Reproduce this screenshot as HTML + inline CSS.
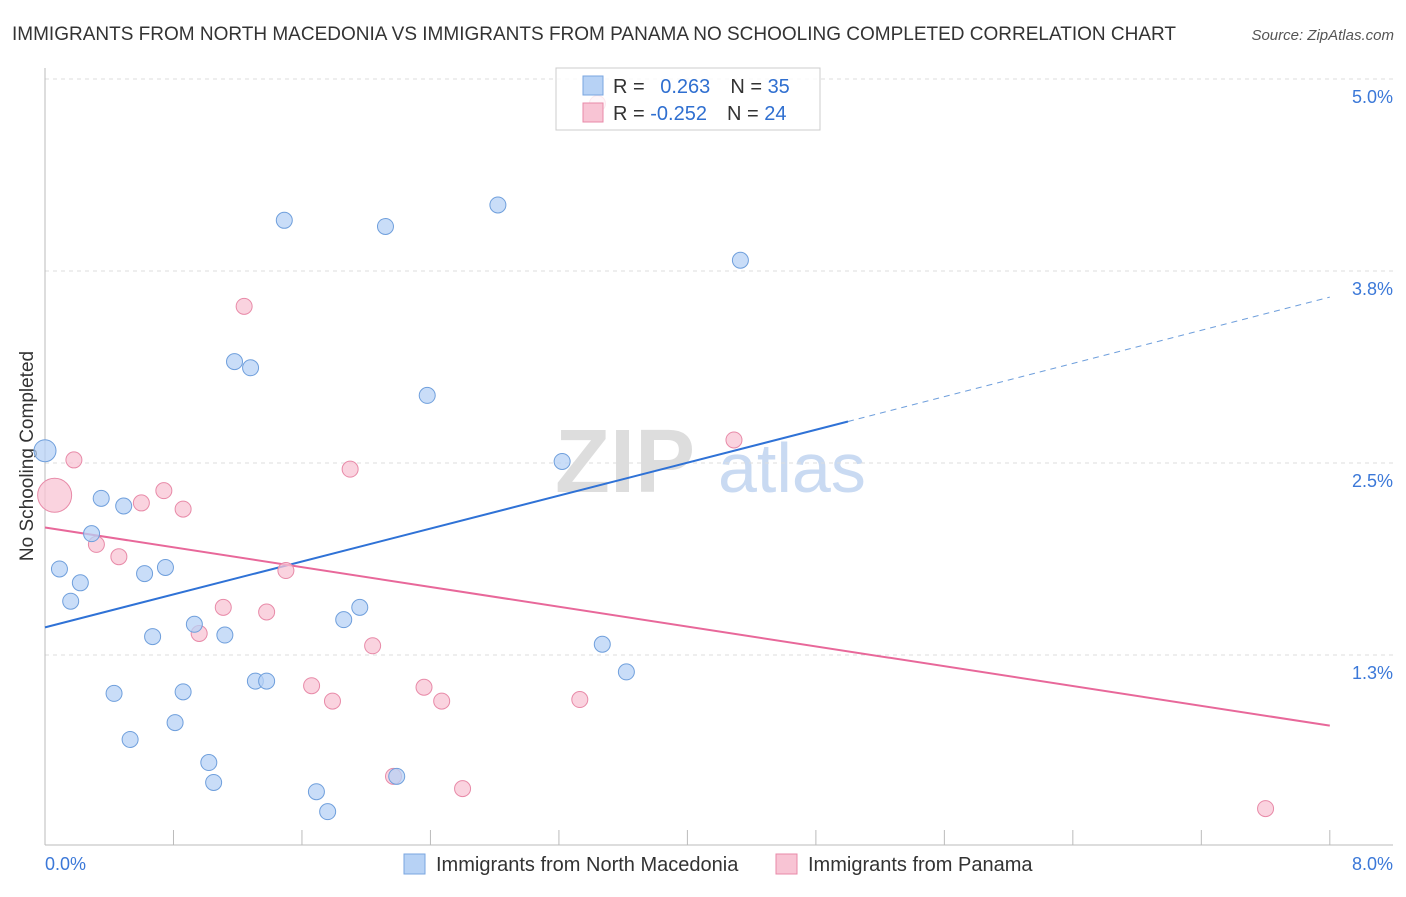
<!DOCTYPE html>
<html><head><meta charset="utf-8"><style>
body{margin:0;background:#fff;font-family:"Liberation Sans",sans-serif;}
svg text{font-family:"Liberation Sans",sans-serif;}
</style></head><body>
<svg id="chart" width="1406" height="892" xmlns="http://www.w3.org/2000/svg">
<text x="12" y="40" font-size="19" fill="#333">IMMIGRANTS FROM NORTH MACEDONIA VS IMMIGRANTS FROM PANAMA NO SCHOOLING COMPLETED CORRELATION CHART</text>
<text x="1394" y="40" font-size="15" fill="#555" font-style="italic" text-anchor="end">Source: ZipAtlas.com</text>
<text x="555" y="492" font-size="90" fill="#ddd" font-family="Liberation Serif" font-weight="bold">ZIP</text>
<text x="718" y="492" font-size="70" fill="#c9daf2">atlas</text>
<text transform="translate(33,456) rotate(-90)" font-size="19" fill="#333" text-anchor="middle">No Schooling Completed</text>
<g id="grid"></g><g id="axes"></g><g id="lines"></g><g id="pts"></g>
<g>
<rect x="556" y="68" width="264" height="62" fill="#fff" fill-opacity="0.8" stroke="#ccc"/>
<rect x="583" y="76" width="20" height="19" fill="#b7d2f5" stroke="#7aa6e0"/>
<rect x="583" y="103" width="20" height="19" fill="#f8c4d4" stroke="#e88aa8"/>
<text x="613" y="93" font-size="20" fill="#333">R = <tspan fill="#2f6fd0" dx="10">0.263</tspan><tspan dx="20" fill="#333">N = </tspan><tspan fill="#2f6fd0">35</tspan></text>
<text x="613" y="120" font-size="20" fill="#333">R = <tspan fill="#2f6fd0">-0.252</tspan><tspan dx="20" fill="#333">N = </tspan><tspan fill="#2f6fd0">24</tspan></text>
</g>
<g>
<rect x="404" y="854" width="21" height="20" fill="#b7d2f5" stroke="#7aa6e0"/>
<text x="436" y="871" font-size="20" fill="#333">Immigrants from North Macedonia</text>
<rect x="776" y="854" width="21" height="20" fill="#f8c4d4" stroke="#e88aa8"/>
<text x="808" y="871" font-size="20" fill="#333">Immigrants from Panama</text>
</g>
</svg>
<script>
const yTicks=[1.25,2.5,3.75,5.0];
const yTickLabels=["1.3%","2.5%","3.8%","5.0%"];
const xTicks=[0,0.8,1.6,2.4,3.2,4.0,4.8,5.6,6.4,7.2,8.0];
const blueX=[0.00,1.49,2.12,2.82,4.33,1.18,1.28,2.38,3.22,0.35,0.49,0.29,0.09,0.22,0.62,0.75,0.16,0.67,0.93,1.12,1.86,1.96,3.47,3.62,0.43,0.86,1.31,1.38,0.81,0.53,1.02,1.05,1.69,1.76,2.19];
const blueY=[2.58,4.08,4.04,4.18,3.82,3.16,3.12,2.94,2.51,2.27,2.22,2.04,1.81,1.72,1.78,1.82,1.60,1.37,1.45,1.38,1.48,1.56,1.32,1.14,1.00,1.01,1.08,1.08,0.81,0.70,0.55,0.42,0.36,0.23,0.46];
const pinkX=[3.44,1.24,0.18,0.06,0.74,0.60,0.86,0.32,0.46,1.90,4.29,1.50,1.11,1.38,0.96,2.04,1.66,1.79,2.36,2.47,3.33,2.17,2.60,7.60];
const pinkY=[4.84,3.52,2.52,2.29,2.32,2.24,2.20,1.97,1.89,2.46,2.65,1.80,1.56,1.53,1.39,1.31,1.05,0.95,1.04,0.95,0.96,0.46,0.38,0.25];
const blueLine=[[0,1.43],[5.0,2.77],[8,3.58]];
const pinkLine=[[0,2.08],[8,0.79]];
const NS="http://www.w3.org/2000/svg";
const X=v=>45+v*160.6, Y=v=>847-v*153.6;
function mk(tag,attrs,parent){const e=document.createElementNS(NS,tag);for(const k in attrs)e.setAttribute(k,attrs[k]);document.getElementById(parent).appendChild(e);return e;}
yTicks.forEach((t,i)=>{
 const g=mk('line',{x1:45,x2:1393,y1:Y(t),y2:Y(t),stroke:'#ddd','stroke-dasharray':'4,4'},'grid');
 
 
 const l=mk('text',{x:1393,y:Y(t)+24,'font-size':18,fill:'#3b78d8','text-anchor':'end'},'grid');l.textContent=yTickLabels[i];
 
 
});
let a=mk('line',{x1:45,x2:45,y1:68,y2:845,stroke:'#bbb'},'axes');


a=mk('line',{x1:45,x2:1393,y1:845,y2:845,stroke:'#bbb'},'axes');


xTicks.forEach(t=>{const e=mk('line',{x1:X(t),x2:X(t),y1:830,y2:845,stroke:'#bbb'},'axes');
 
 });
let t0=mk('text',{x:45,y:870,'font-size':18,fill:'#3b78d8'},'axes');t0.textContent='0.0%';


let t1=mk('text',{x:1393,y:870,'font-size':18,fill:'#3b78d8','text-anchor':'end'},'axes');t1.textContent='8.0%';


function pts(xs,ys,fill,stroke,name,bigIdx,bigR){xs.forEach((x,i)=>{const c=mk('circle',{cx:X(x),cy:Y(ys[i]),r:i===bigIdx?bigR:8,fill:fill,'fill-opacity':0.75,stroke:stroke,'stroke-width':1},'pts');
 
 });}
pts(pinkX,pinkY,'#f8c4d4','#e88aa8','panama-point',3,17);
pts(blueX,blueY,'#b7d2f5','#6f9fdc','north-macedonia-point',0,11);
let l=mk('line',{x1:X(blueLine[0][0]),y1:Y(blueLine[0][1]),x2:X(blueLine[1][0]),y2:Y(blueLine[1][1]),stroke:'#2f72d6','stroke-width':2},'lines');


l=mk('line',{x1:X(blueLine[1][0]),y1:Y(blueLine[1][1]),x2:X(blueLine[2][0]),y2:Y(blueLine[2][1]),stroke:'#6f9fdc','stroke-width':1,'stroke-dasharray':'6,5'},'lines');


l=mk('line',{x1:X(pinkLine[0][0]),y1:Y(pinkLine[0][1]),x2:X(pinkLine[1][0]),y2:Y(pinkLine[1][1]),stroke:'#e8689a','stroke-width':2},'lines');


</script>
</body></html>
